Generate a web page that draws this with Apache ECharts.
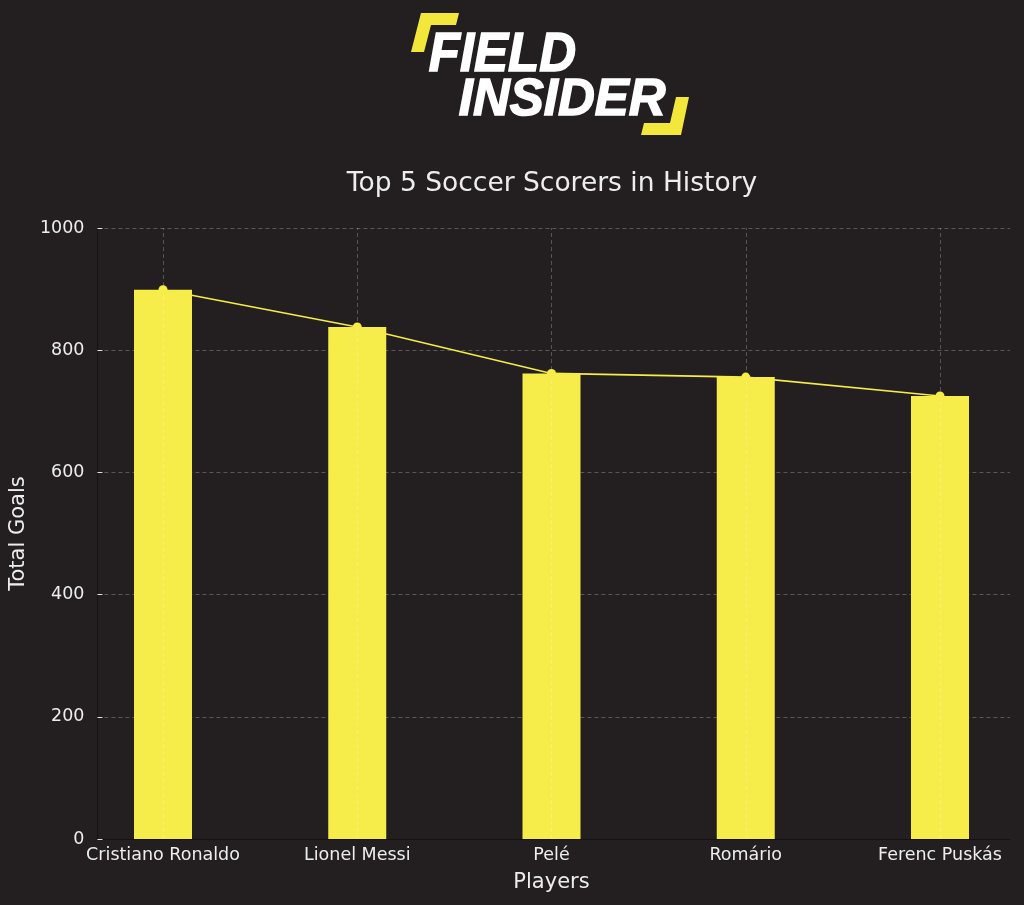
<!DOCTYPE html>
<html>
<head>
<meta charset="utf-8">
<script src="https://cdn.jsdelivr.net/npm/echarts@6/dist/echarts.min.js"></script>
<style>html,body{margin:0;padding:0;background:#231F20;}#c{width:1024px;height:905px;}</style>
</head>
<body>
<div id="c"></div>
<script>
const players = ['Cristiano Ronaldo', 'Lionel Messi', 'Pelé', 'Romário', 'Ferenc Puskás'];
const goals = [899, 838, 762, 756, 725];
const yTicks = [0, 200, 400, 600, 800, 1000];

const chart = echarts.init(document.getElementById('c'), null, {renderer: 'canvas'});
const yellow = '#F6EC4A';
const txt = '#EDEDED';
const font = 'DejaVu Sans';

chart.setOption({
  backgroundColor: '#231F20',
  animation: false,
  title: {
    text: 'Top 5 Soccer Scorers in History',
    left: 547, top: 166, textAlign: 'center',
    textStyle: {color: txt, fontFamily: font, fontSize: 26.5, fontWeight: 'normal'}
  },
  graphic: [
    {type: 'polygon', shape: {points: [[421,13],[459,13],[456,25],[431,25],[424,52],[411,52]]}, style: {fill: '#F3E73C'}},
    {type: 'polygon', shape: {points: [[676,97],[689,97],[681,135],[641,135],[644,123],[670,123]]}, style: {fill: '#F3E73C'}},
    {type: 'text', left: 428, top: 27, scaleY: 1.08, style: {text: 'FIELD', fill: '#FFFFFF', stroke: '#FFFFFF', lineWidth: 1.5, font: 'italic bold 51px "Liberation Sans"'}},
    {type: 'text', left: 458, top: 75, style: {text: 'INSIDER', fill: '#FFFFFF', stroke: '#FFFFFF', lineWidth: 1.5, font: 'italic bold 51px "Liberation Sans"'}}
  ],
  grid: [
    {left: 93, right: 14, top: 228, bottom: 66, containLabel: false},
    {left: 163, right: 84, top: 228, bottom: 66, containLabel: false}
  ],
  xAxis: [
    {
      gridIndex: 0, type: 'value', min: 0, max: 1,
      axisLine: {show: true, lineStyle: {color: '#141213'}},
      axisTick: {show: false}, axisLabel: {show: false}, splitLine: {show: false}
    },
    {
      gridIndex: 1, type: 'category', data: players, boundaryGap: false,
      name: 'Players', nameLocation: 'middle', nameGap: 33,
      nameTextStyle: {color: txt, fontFamily: font, fontSize: 21},
      axisLine: {show: false}, axisTick: {show: false},
      axisLabel: {color: txt, fontFamily: font, fontSize: 17.5, margin: 7, interval: 0},
      splitLine: {show: false}
    }
  ],
  yAxis: [
    {
      gridIndex: 0, type: 'value', min: 0, max: 1000, interval: 200,
      name: 'Total Goals', nameLocation: 'middle', nameGap: 66,
      nameTextStyle: {color: txt, fontFamily: font, fontSize: 21},
      axisLine: {show: true, lineStyle: {color: '#141213'}},
      axisTick: {show: true, inside: true, length: 5, lineStyle: {color: '#e0e0e0'}},
      axisLabel: {color: txt, fontFamily: font, fontSize: 17.5, margin: 13, formatter: v => String(v)},
      splitLine: {show: true, lineStyle: {color: '#5a5758', type: [4, 3], width: 1}}
    },
    {
      gridIndex: 1, type: 'value', min: 0, max: 1000, interval: 200,
      axisLine: {show: false}, axisTick: {show: false}, axisLabel: {show: false}, splitLine: {show: false}
    }
  ],
  series: [
    {type: 'bar', xAxisIndex: 1, yAxisIndex: 1, data: goals, barWidth: 58, z: 1, clip: false,
      itemStyle: {color: yellow}},
    {type: 'line', xAxisIndex: 1, yAxisIndex: 1, data: goals, z: 3, symbol: 'circle', symbolSize: 9, clip: false,
      lineStyle: {color: yellow, width: 1.6}, itemStyle: {color: yellow},
      markLine: {silent: true, symbol: 'none', label: {show: false}, z: 2,
        lineStyle: {color: 'rgba(255,255,255,0.24)', type: [4, 3], width: 1},
        data: players.map((p, i) => [{coord: [i, 0]}, {coord: [i, 1000]}])}}
  ]
});
</script>
</body>
</html>
